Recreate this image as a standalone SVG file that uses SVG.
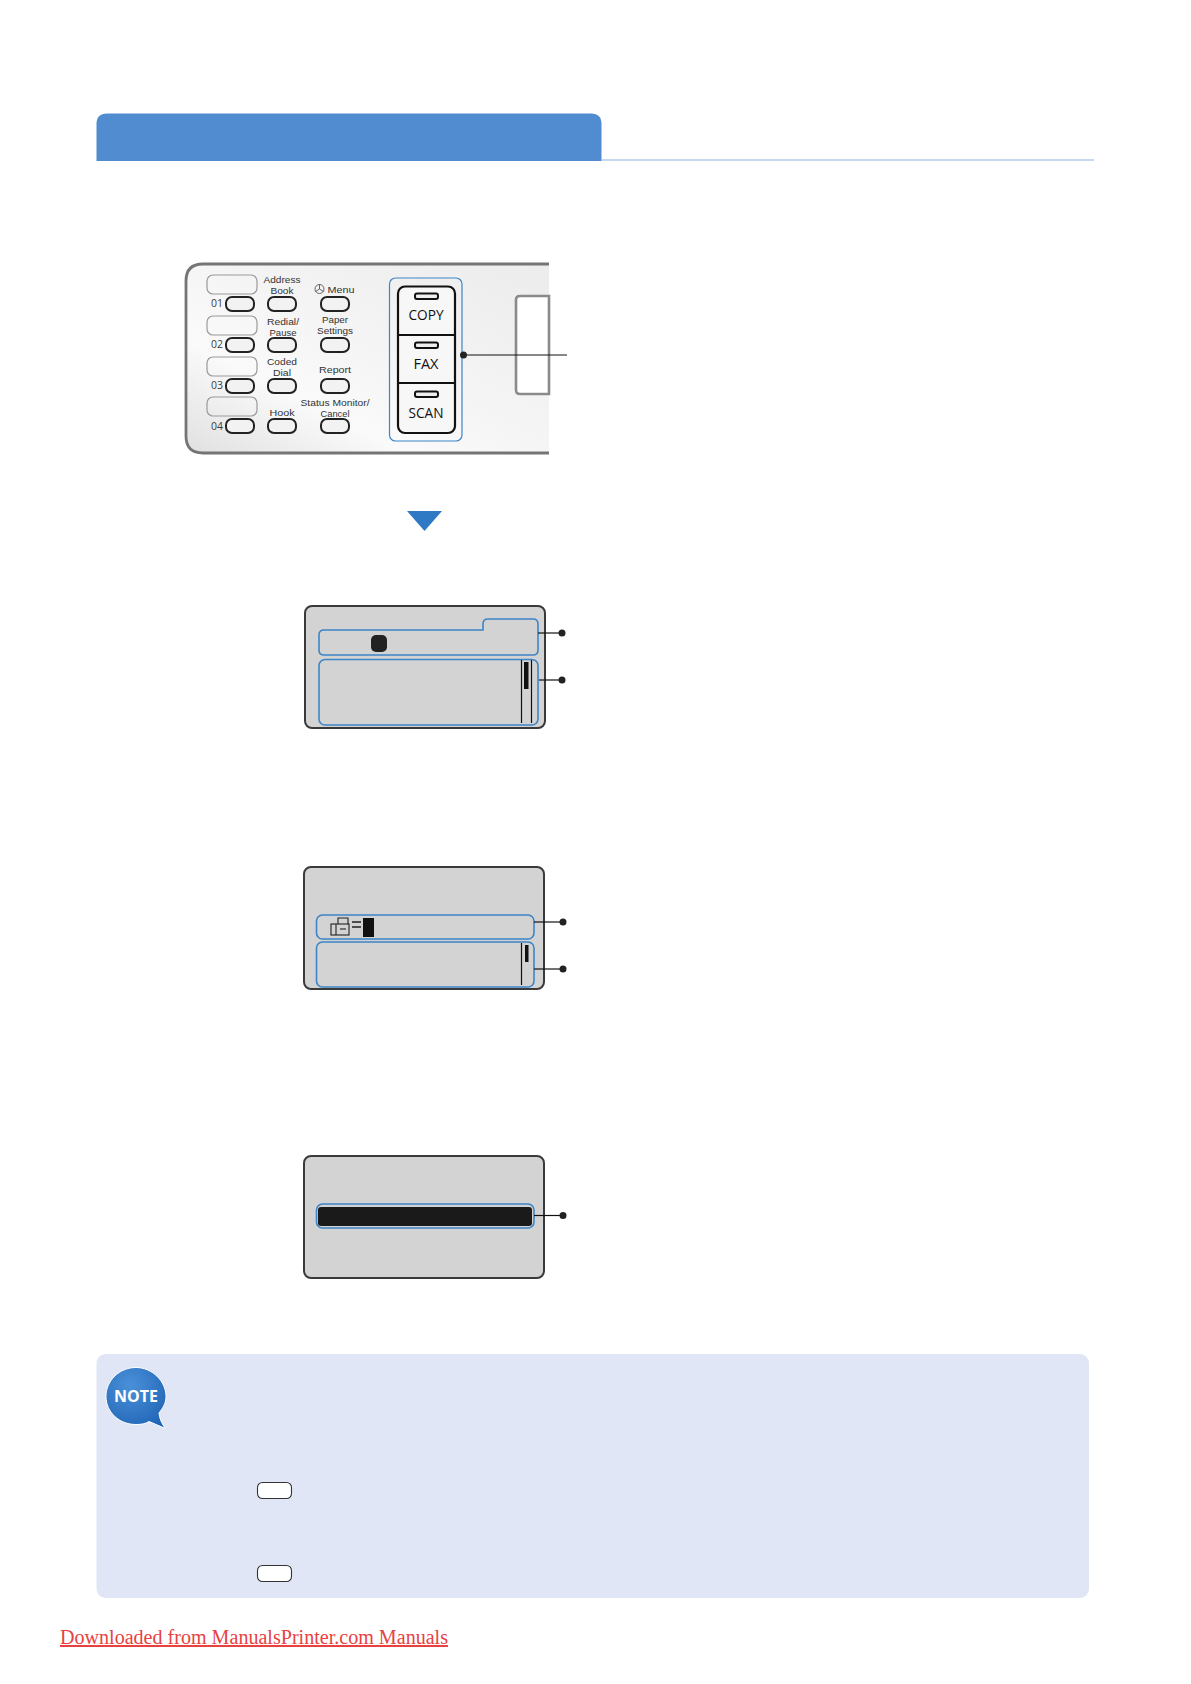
<svg xmlns="http://www.w3.org/2000/svg" width="1191" height="1684" viewBox="0 0 1191 1684">
<style>
.lbl{font-family:"Liberation Sans",Arial,sans-serif;font-size:9.5px;fill:#333;text-anchor:middle}
.num{font-family:"Open Sans","Noto Sans",sans-serif;font-size:11.5px;fill:#3c3c3c;text-anchor:middle}
.big{font-family:"Open Sans","Noto Sans",sans-serif;font-size:15px;fill:#111;text-anchor:middle}
.pad{fill:none;stroke:#9a9a9a;stroke-width:1.2}
.btn{fill:#f2f2f2;stroke:#222;stroke-width:2}
.led{fill:#eee;stroke:#111;stroke-width:2}
.lcd{fill:#d3d3d3;stroke:#3a3a3a;stroke-width:2}
.hl{fill:none;stroke:#3d85c6;stroke-width:1.6}
.bar{stroke:#111;stroke-width:1.2}
.conn{fill:none;stroke:#111;stroke-width:1.2}
.dot{fill:#222}
.key{fill:#fff;stroke:#333;stroke-width:1.1}
</style>
<defs>
<linearGradient id="panelFill" x1="0" y1="1" x2="1" y2="0">
<stop offset="0" stop-color="#e0e0e0"/><stop offset="0.3" stop-color="#fafafa"/><stop offset="0.65" stop-color="#f2f2f2"/><stop offset="1" stop-color="#ececec"/>
</linearGradient>
<radialGradient id="bubble" cx="0.4" cy="0.3" r="0.8">
<stop offset="0" stop-color="#4a90d9"/><stop offset="1" stop-color="#1f64b4"/>
</radialGradient>
</defs>

<g id="header">
<path d="M96.500 161V124Q96.500 113.500 107 113.500H591Q601.500 113.500 601.500 124V161Z" fill="#518cd1"/>
<line x1="601" y1="160" x2="1094" y2="160" stroke="#8fb0dc" stroke-width="1.200"/>
</g>

<g id="control-panel">
<path d="M549 264H203Q186 264 186 281V436Q186 453 203 453H549Z" fill="url(#panelFill)"/>
<path d="M549 264H203Q186 264 186 281V436Q186 453 203 453H549" fill="none" stroke="#757575" stroke-width="2.800"/>
<path d="M549 296H520Q516 296 516 300V390Q516 394 520 394H549Z" fill="#fff" stroke="#8a8a8a" stroke-width="2.600"/>
<rect class="pad" x="207" y="275" width="50" height="19" rx="6"/>
<rect class="pad" x="207" y="316" width="50" height="19" rx="6"/>
<rect class="pad" x="207" y="357" width="50" height="19" rx="6"/>
<rect class="pad" x="207" y="397" width="50" height="19" rx="6"/>
<rect class="btn" x="226" y="297" width="28" height="14" rx="6"/>
<rect class="btn" x="226" y="338" width="28" height="14" rx="6"/>
<rect class="btn" x="226" y="379" width="28" height="14" rx="6"/>
<rect class="btn" x="226" y="419" width="28" height="14" rx="6"/>
<rect class="btn" x="268" y="297" width="28" height="14" rx="6"/>
<rect class="btn" x="268" y="338" width="28" height="14" rx="6"/>
<rect class="btn" x="268" y="379" width="28" height="14" rx="6"/>
<rect class="btn" x="268" y="419" width="28" height="14" rx="6"/>
<rect class="btn" x="321" y="297" width="28" height="14" rx="6"/>
<rect class="btn" x="321" y="338" width="28" height="14" rx="6"/>
<rect class="btn" x="321" y="379" width="28" height="14" rx="6"/>
<rect class="btn" x="321" y="419" width="28" height="14" rx="6"/>
<text class="num" x="217" y="307" textLength="12" lengthAdjust="spacingAndGlyphs">01</text>
<text class="num" x="217" y="348" textLength="12" lengthAdjust="spacingAndGlyphs">02</text>
<text class="num" x="217" y="389" textLength="12" lengthAdjust="spacingAndGlyphs">03</text>
<text class="num" x="217" y="430" textLength="12" lengthAdjust="spacingAndGlyphs">04</text>
<text class="lbl" x="282" y="282.500" textLength="37" lengthAdjust="spacingAndGlyphs">Address</text>
<text class="lbl" x="282" y="293.500" textLength="23" lengthAdjust="spacingAndGlyphs">Book</text>
<text class="lbl" x="283" y="324.500" textLength="32" lengthAdjust="spacingAndGlyphs">Redial/</text>
<text class="lbl" x="283" y="335.500" textLength="27" lengthAdjust="spacingAndGlyphs">Pause</text>
<text class="lbl" x="282" y="364.500" textLength="30" lengthAdjust="spacingAndGlyphs">Coded</text>
<text class="lbl" x="282" y="375.500" textLength="18" lengthAdjust="spacingAndGlyphs">Dial</text>
<text class="lbl" x="282" y="416" textLength="25" lengthAdjust="spacingAndGlyphs">Hook</text>
<g fill="none" stroke="#444" stroke-width="0.800"><circle cx="319.500" cy="289" r="4.500"/><path d="M319.500 289V284.500M319.500 289L315.500 291.500M319.500 289L323.500 291.500"/></g>
<text class="lbl" x="341" y="292.500" textLength="27" lengthAdjust="spacingAndGlyphs">Menu</text>
<text class="lbl" x="335" y="322.500" textLength="26" lengthAdjust="spacingAndGlyphs">Paper</text>
<text class="lbl" x="335" y="333.500" textLength="36" lengthAdjust="spacingAndGlyphs">Settings</text>
<text class="lbl" x="335" y="372.500" textLength="32" lengthAdjust="spacingAndGlyphs">Report</text>
<text class="lbl" x="335" y="405.500" textLength="69" lengthAdjust="spacingAndGlyphs">Status Monitor/</text>
<text class="lbl" x="335" y="416.500" textLength="29" lengthAdjust="spacingAndGlyphs">Cancel</text>
<rect x="389.500" y="278" width="72.500" height="163" rx="6" fill="none" stroke="#3d85c6" stroke-width="1.200"/>
<rect x="398" y="286.500" width="57" height="146.500" rx="7" fill="#f7f7f7" stroke="#111" stroke-width="2.200"/>
<line x1="398" y1="335" x2="455" y2="335" stroke="#111" stroke-width="1.800"/>
<line x1="398" y1="383" x2="455" y2="383" stroke="#111" stroke-width="1.800"/>
<rect class="led" x="415" y="293.500" width="23" height="5.500" rx="2"/>
<rect class="led" x="415" y="342.500" width="23" height="5.500" rx="2"/>
<rect class="led" x="415" y="391.500" width="23" height="5.500" rx="2"/>
<text class="big" x="426" y="320" textLength="35" lengthAdjust="spacingAndGlyphs">COPY</text>
<text class="big" x="426" y="369" textLength="25" lengthAdjust="spacingAndGlyphs">FAX</text>
<text class="big" x="426" y="418" textLength="35" lengthAdjust="spacingAndGlyphs">SCAN</text>
</g>

<polygon id="down-arrow" points="407,511 442,511 424.500,531" fill="#2f78c4"/>

<g id="lcd-1">
<rect class="lcd" x="305" y="606" width="240" height="122" rx="7"/>
<path class="hl" d="M324 630H483V624Q483 619 488 619H533Q538 619 538 624V650Q538 655 533 655H324Q319 655 319 650V635Q319 630 324 630Z"/>
<rect class="hl" x="319" y="659.500" width="219" height="65.500" rx="6"/>
<line class="bar" x1="521.500" y1="660" x2="521.500" y2="723"/>
<line class="bar" x1="531.500" y1="660" x2="531.500" y2="723"/>
<rect x="524" y="662" width="4.500" height="27" fill="#111"/>
<rect x="371" y="635" width="16" height="17" rx="5" fill="#222"/>
</g>

<g id="lcd-2">
<rect class="lcd" x="304" y="867" width="240" height="122" rx="7"/>
<rect class="hl" x="316.500" y="915" width="217.500" height="24" rx="6"/>
<rect class="hl" x="316.500" y="942" width="217.500" height="45" rx="6"/>
<line class="bar" x1="521.500" y1="943" x2="521.500" y2="985"/>
<rect x="525" y="945" width="3.500" height="17" fill="#111"/>
<g fill="none" stroke="#222" stroke-width="1.100"><path d="M338 924V918H348V924"/><rect x="331" y="924" width="18" height="11"/><line x1="336" y1="924" x2="336" y2="935"/><line x1="340" y1="929" x2="346" y2="929"/></g>
<path d="M352 922H361M352 927H361" stroke="#222" stroke-width="1.600"/>
<rect x="363" y="918" width="11" height="19" fill="#111"/>
</g>

<g id="lcd-3">
<rect class="lcd" x="304" y="1156" width="240" height="122" rx="7"/>
<rect x="318" y="1207" width="214" height="19" rx="3" fill="#1a1a1a"/>
<rect class="hl" x="316.500" y="1204" width="217.500" height="24" rx="6"/>
</g>

<g id="connectors">
<line class="conn" x1="462" y1="355" x2="567" y2="355"/>
<circle class="dot" cx="463.500" cy="355" r="3.500"/>
<line class="conn" x1="538" y1="633" x2="562" y2="633"/>
<circle class="dot" cx="562" cy="633" r="3.500"/>
<line class="conn" x1="539" y1="680" x2="562" y2="680"/>
<circle class="dot" cx="562" cy="680" r="3.500"/>
<line class="conn" x1="534" y1="922" x2="563" y2="922"/>
<circle class="dot" cx="563" cy="922" r="3.500"/>
<line class="conn" x1="534" y1="969" x2="563" y2="969"/>
<circle class="dot" cx="563" cy="969" r="3.500"/>
<line class="conn" x1="534" y1="1215.500" x2="563" y2="1215.500"/>
<circle class="dot" cx="563" cy="1215.500" r="3.500"/>
</g>

<g id="note">
<rect x="96.500" y="1354" width="992.500" height="244" rx="9" fill="#e0e6f5"/>
<path d="M136 1367.500C119 1367.500 106 1381 106 1396.500C106 1412 119 1424.500 136 1424.500C142 1424.500 146 1423.500 149 1421.500L165.500 1428.500C160.500 1422 159.500 1417 159 1413C163 1408 166 1403 166 1396.500C166 1381 152 1367.500 136 1367.500Z" fill="url(#bubble)" stroke="#fff" stroke-width="1"/>
<text x="136" y="1402" text-anchor="middle" font-family="Open Sans,Noto Sans,sans-serif" font-weight="700" font-size="15.500" fill="#fff" textLength="44" lengthAdjust="spacingAndGlyphs">NOTE</text>
<rect class="key" x="257.500" y="1482.500" width="34" height="16" rx="5"/>
<rect class="key" x="257.500" y="1565.500" width="34" height="16" rx="5"/>
</g>

<text id="footer" x="60" y="1644" font-family="Liberation Serif,serif" font-size="20" fill="#e8413f" text-decoration="underline" textLength="388" lengthAdjust="spacingAndGlyphs">Downloaded from ManualsPrinter.com Manuals</text>
</svg>
